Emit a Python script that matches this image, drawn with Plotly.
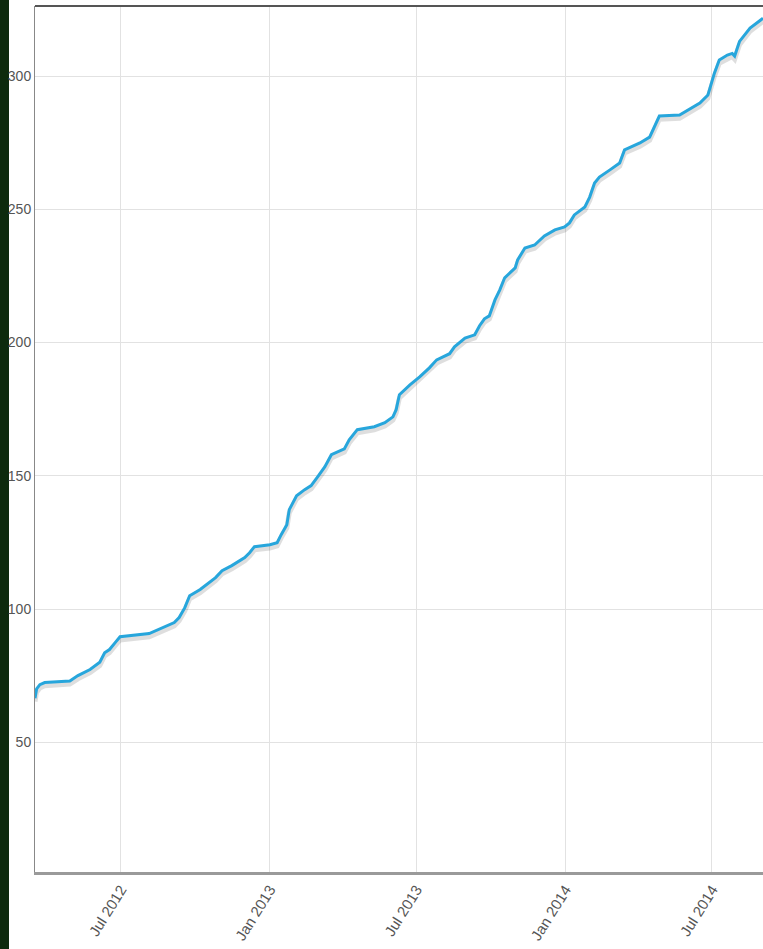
import plotly.graph_objects as go

dates = [
    "2012-03-17", "2012-03-19", "2012-03-23", "2012-03-29", "2012-04-29", "2012-05-09",
    "2012-05-24", "2012-06-05", "2012-06-11", "2012-06-17", "2012-06-24", "2012-06-30",
    "2012-08-05", "2012-08-18", "2012-09-05", "2012-09-11", "2012-09-18", "2012-09-24",
    "2012-10-07", "2012-10-26", "2012-11-03", "2012-11-15", "2012-12-01", "2012-12-07",
    "2012-12-13", "2013-01-01", "2013-01-10", "2013-01-15", "2013-01-22", "2013-01-25",
    "2013-02-03", "2013-02-13", "2013-02-21", "2013-03-01", "2013-03-10", "2013-03-18",
    "2013-04-03", "2013-04-09", "2013-04-19", "2013-05-10", "2013-05-23", "2013-06-02",
    "2013-06-06", "2013-06-10", "2013-06-23", "2013-07-05", "2013-07-17", "2013-07-26",
    "2013-08-11", "2013-08-17", "2013-08-30", "2013-09-11", "2013-09-17", "2013-09-23",
    "2013-09-29", "2013-10-06", "2013-10-12", "2013-10-18", "2013-10-31", "2013-11-03",
    "2013-11-12", "2013-11-24", "2013-11-30", "2013-12-06", "2013-12-19", "2013-12-31",
    "2014-01-06", "2014-01-12", "2014-01-25", "2014-01-31", "2014-02-06", "2014-02-12",
    "2014-02-25", "2014-03-09", "2014-03-15", "2014-04-03", "2014-04-15", "2014-04-21",
    "2014-04-27", "2014-05-22", "2014-06-03", "2014-06-16", "2014-06-26", "2014-07-01",
    "2014-07-04", "2014-07-10", "2014-07-20", "2014-07-26", "2014-07-29", "2014-08-04",
    "2014-08-17", "2014-09-02",
]
values = [
    66.5, 70.0, 71.6, 72.4, 73.0, 75.0,
    77.3, 80.0, 83.6, 84.8, 87.4, 89.6,
    90.8, 92.6, 94.9, 96.8, 100.5, 105.0,
    107.3, 111.8, 114.4, 116.3, 119.3, 121.1,
    123.4, 124.1, 124.9, 127.9, 131.6, 137.3,
    142.5, 144.8, 146.3, 149.6, 153.4, 157.9,
    160.1, 163.5, 167.3, 168.4, 169.9, 172.1,
    174.8, 180.4, 184.1, 187.1, 190.5, 193.5,
    195.8, 198.4, 201.7, 202.9, 206.3, 208.9,
    210.0, 216.0, 219.8, 224.3, 228.0, 231.0,
    235.5, 236.6, 238.5, 240.0, 242.3, 243.4,
    244.9, 247.9, 250.9, 254.6, 259.9, 262.1,
    264.8, 267.4, 272.3, 274.9, 277.1, 280.9,
    285.0, 285.4, 287.6, 289.9, 292.9, 298.5,
    301.1, 306.0, 307.9, 308.5, 307.5, 313.0,
    318.0, 321.7,
]

tick_dates = ["2012-07-01", "2013-01-01", "2013-07-01", "2014-01-01", "2014-07-01"]
tick_labels = ["Jul 2012", "Jan 2013", "Jul 2013", "Jan 2014", "Jul 2014"]
y_ticks = [50, 100, 150, 200, 250, 300]

shadow = [v - 1.2 for v in values]

narrow = "Liberation Sans Narrow, Liberation Sans, Arial, sans-serif"

fig = go.Figure()
fig.add_trace(go.Scatter(x=dates, y=shadow, mode="lines",
                         line=dict(color="rgba(0,0,0,0.13)", width=5),
                         hoverinfo="skip", showlegend=False))
fig.add_trace(go.Scatter(x=dates, y=values, mode="lines",
                         line=dict(color="#27a6dc", width=3),
                         showlegend=False))

fig.update_layout(
    width=763, height=949,
    margin=dict(l=35, r=0, t=6, b=77),
    paper_bgcolor="white", plot_bgcolor="white",
    font=dict(family=narrow, size=12, color="#555"),
    xaxis=dict(
        type="date", range=["2012-03-17", "2014-09-02"],
        tickvals=tick_dates, ticktext=tick_labels, tickangle=-58,
        showgrid=True, gridcolor="#e2e2e2", gridwidth=1,
        showline=True, linecolor="#9a9a9a", linewidth=3,
        ticks="", zeroline=False,
        tickfont=dict(family=narrow, size=15, color="#555"),
    ),
    yaxis=dict(
        range=[1.3, 326.3], tickvals=y_ticks,
        showgrid=True, gridcolor="#e2e2e2", gridwidth=1,
        showline=True, linecolor="#888", linewidth=1,
        ticks="", zeroline=False,
        tickfont=dict(family=narrow, size=14, color="#555"),
    ),
    shapes=[
        dict(type="line", xref="paper", yref="paper", x0=0, x1=1, y0=1, y1=1,
             line=dict(color="#555", width=2)),
        dict(type="rect", xref="paper", yref="paper", x0=-35/728, x1=-26/728,
             y0=-77/866, y1=1 + 6/866, fillcolor="#0d2a0d", line=dict(width=0),
             layer="below"),
    ],
)

fig.write_html("out.html", config={"displayModeBar": False},
               post_script="document.body.style.margin='0px';")
